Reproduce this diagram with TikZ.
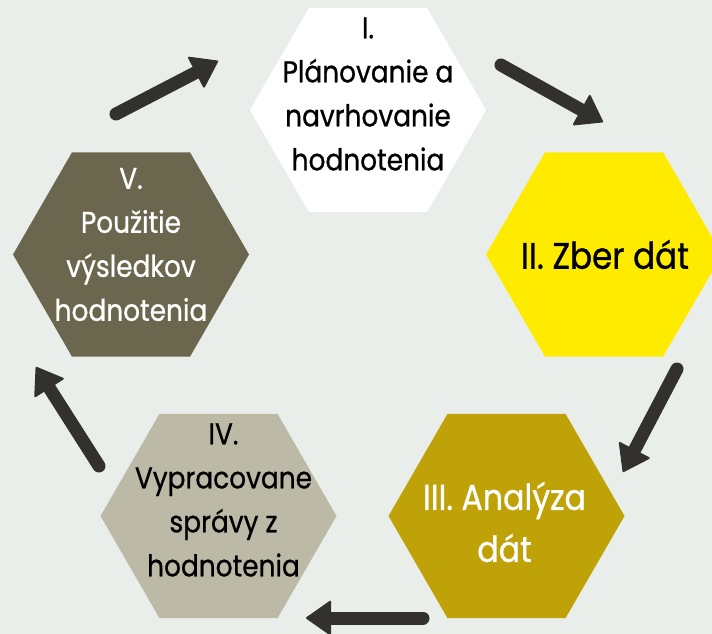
\documentclass[tikz,border=0pt]{standalone}
\usepackage{fontspec}
\newfontfamily\hexfont{Poppins}[FakeStretch=0.88,FakeBold=0.8]
\usetikzlibrary{shapes.geometric,arrows.meta}
\definecolor{bg}{HTML}{EAEEEB}
\definecolor{arrowc}{HTML}{333130}
\definecolor{cI}{HTML}{FFFFFF}
\definecolor{cII}{HTML}{FFEB00}
\definecolor{cIII}{HTML}{BFA207}
\definecolor{cIV}{HTML}{BDB9A7}
\definecolor{cV}{HTML}{6A674E}
\begin{document}
\begin{tikzpicture}[x=1pt,y=-1pt,
  hex/.style={regular polygon,regular polygon sides=6,minimum size=236pt,inner sep=0pt,outer sep=0pt,draw=none},
  lbl/.style={align=center,inner sep=0pt,font=\hexfont\fontsize{30}{44}\selectfont},
  arr/.style={line width=13pt,draw=arrowc,line cap=round,-{Triangle[length=26pt,width=36pt,round,line width=2pt]}}]
\useasboundingbox (0,0) rectangle (712,634);
\clip (0,0) rectangle (712,634);
\fill[bg] (0,0) rectangle (712,634);
% hexagons
\node[hex,fill=cI]   (h1) at (368,110) {};
\node[hex,fill=cII]  (h2) at (604,254.5) {};
\node[hex,fill=cIII] (h3) at (506.5,516) {};
\node[hex,fill=cIV]  (h4) at (218.5,516) {};
\node[hex,fill=cV]   (h5) at (131,254.5) {};
% labels
\node[lbl,text=black] (t1) at ([yshift=16pt]h1.center) {I.\\Plánovanie a\\navrhovanie\\hodnotenia};
\node[lbl,text=black,font=\hexfont\fontsize{37}{44}\selectfont] (t2) at ([xshift=1pt]h2.center) {II. Zber dát};
\node[lbl,text=white,font=\hexfont\fontsize{36}{46}\selectfont] (t3) at ([yshift=-6pt,xshift=-2pt]h3.center) {III. Analýza\\[6pt]dát};
\node[lbl,text=black] (t4) at ([xshift=5pt,yshift=16pt]h4.center) {IV.\\Vypracovane\\správy z\\hodnotenia};
\node[lbl,text=white] (t5) at ([yshift=10pt]h5.center) {V.\\Použitie\\výsledkov\\hodnotenia};
% arrow end points
\coordinate (a1s) at (116,114); \coordinate (a1e) at (218,61);
\coordinate (a2s) at (501,65);  \coordinate (a2e) at (603,122);
\coordinate (a3s) at (677,369); \coordinate (a3e) at (623,472);
\coordinate (a4s) at (423,618); \coordinate (a4e) at (306,618);
\coordinate (a5s) at (99,466);  \coordinate (a5e) at (36,367);
\draw[arr] (a1s) -- (a1e);
\draw[arr] (a2s) -- (a2e);
\draw[arr] (a3s) -- (a3e);
\draw[arr] (a4s) -- (a4e);
\draw[arr] (a5s) -- (a5e);
\end{tikzpicture}
\end{document}
